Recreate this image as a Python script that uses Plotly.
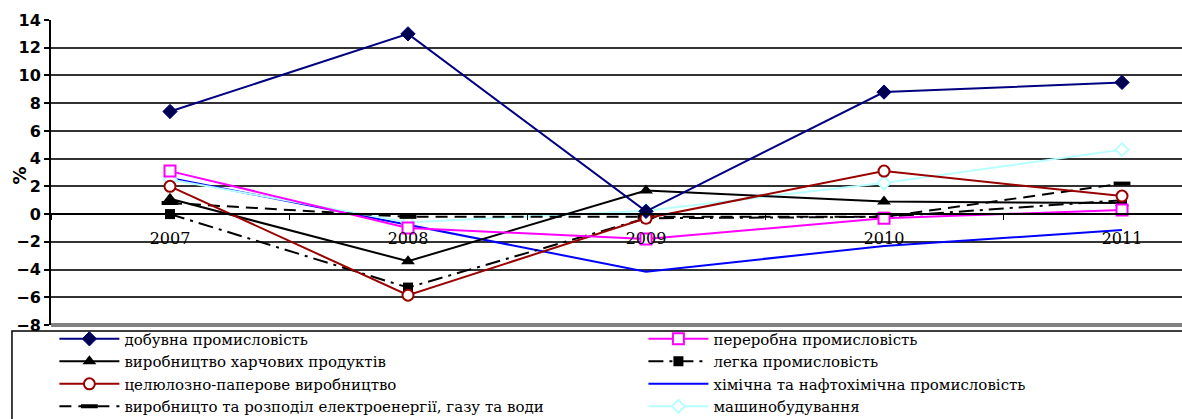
import plotly.graph_objects as go

years = ["2007", "2008", "2009", "2010", "2011"]

dobuvna = [7.4, 13.0, 0.2, 8.8, 9.5]
pererobna = [3.1, -1.0, -1.8, -0.3, 0.3]
kharchovi = [1.1, -3.4, 1.7, 0.9, 0.8]
lehka = [0.0, -5.3, -0.3, -0.2, 1.0]
tseliulozno = [2.0, -5.85, -0.3, 3.1, 1.3]
khimichna = [2.6, -0.8, -4.15, -2.3, -1.15]
elektro = [0.8, -0.2, -0.2, -0.2, 2.2]
mashyno = [2.5, -0.6, 0.25, 2.25, 4.65]

y_ticks = [14, 12, 10, 8, 6, 4, 2, 0, -2, -4, -6, -8]

names = [
    "добувна промисловість",
    "переробна промисловість",
    "виробництво харчових продуктів",
    "легка промисловість",
    "целюлозно-паперове виробництво",
    "хімічна та нафтохімічна промисловість",
    "виробницто та розподіл електроенергії, газу та води",
    "машинобудування",
]

fig = go.Figure()

fig.add_trace(go.Scatter(x=years, y=khimichna, name=names[5], mode="lines",
                         legend="legend2", legendrank=3,
                         line=dict(color="#0000FF", width=2)))
fig.add_trace(go.Scatter(x=years, y=mashyno, name=names[7], mode="lines+markers",
                         legend="legend2", legendrank=4,
                         line=dict(color="#B8FFFF", width=2),
                         marker=dict(symbol="diamond", size=10, color="white",
                                     line=dict(color="#B8FFFF", width=2))))
fig.add_trace(go.Scatter(x=years, y=elektro, name=names[6], mode="lines+markers",
                         legend="legend", legendrank=4,
                         line=dict(color="black", width=2, dash="12px,7px"),
                         marker=dict(symbol="line-ew", size=12,
                                     line=dict(color="black", width=4))))
fig.add_trace(go.Scatter(x=years, y=lehka, name=names[3], mode="lines+markers",
                         legend="legend2", legendrank=2,
                         line=dict(color="black", width=2, dash="longdashdot"),
                         marker=dict(symbol="square", size=10, color="black")))
fig.add_trace(go.Scatter(x=years, y=kharchovi, name=names[2], mode="lines+markers",
                         legend="legend", legendrank=2,
                         line=dict(color="black", width=2),
                         marker=dict(symbol="triangle-up", size=12, color="black")))
fig.add_trace(go.Scatter(x=years, y=tseliulozno, name=names[4], mode="lines+markers",
                         legend="legend", legendrank=3,
                         line=dict(color="#990000", width=2),
                         marker=dict(symbol="circle", size=11, color="white",
                                     line=dict(color="#990000", width=2))))
fig.add_trace(go.Scatter(x=years, y=pererobna, name=names[1], mode="lines+markers",
                         legend="legend2", legendrank=1,
                         line=dict(color="#FF00FF", width=2),
                         marker=dict(symbol="square", size=11, color="white",
                                     line=dict(color="#FF00FF", width=2))))
fig.add_trace(go.Scatter(x=years, y=dobuvna, name=names[0], mode="lines+markers",
                         legend="legend", legendrank=1,
                         line=dict(color="#000080", width=2),
                         marker=dict(symbol="diamond", size=11, color="#000050",
                                     line=dict(color="#000080", width=1))))

legend_font = dict(family="DejaVu Serif, serif", size=15, color="black")
legend_common = dict(
    orientation="v", y=0.008, xanchor="left", yanchor="top",
    font=legend_font, bgcolor="rgba(0,0,0,0)", tracegroupgap=0, itemwidth=60,
    traceorder="normal",
)

fig.update_layout(
    width=1182, height=419,
    margin=dict(l=51, r=0, t=20, b=94, autoexpand=False),
    paper_bgcolor="white", plot_bgcolor="white",
    showlegend=True,
    legend=dict(x=0.003, **legend_common),
    legend2=dict(x=0.5238, **legend_common),
    font=dict(family="Liberation Sans", color="black"),
)

fig.update_xaxes(
    type="category", range=[-0.5, 4.252],
    anchor="free", position=8 / 22,
    showline=True, linecolor="black", linewidth=1.5,
    ticks="outside", tickson="boundaries", ticklen=5, tickcolor="black",
    tickfont=dict(family="DejaVu Serif", size=16, color="black"),
    ticklabelstandoff=10,
    showgrid=False, zeroline=False,
)

fig.update_yaxes(
    range=[-8, 14], tickvals=y_ticks,
    showline=True, linecolor="black", linewidth=2,
    ticks="outside", ticklen=5, tickcolor="black", tickwidth=2,
    tickfont=dict(family="DejaVu Sans", size=16, color="black", weight="bold"),
    showgrid=True, gridcolor="#333333", gridwidth=1.6,
    zeroline=True, zerolinecolor="black", zerolinewidth=1.6,
)

fig.add_annotation(text="%", xref="paper", yref="paper", x=-0.0274, y=0.49,
                   xanchor="center", yanchor="middle",
                   textangle=-90, showarrow=False,
                   font=dict(family="DejaVu Sans", size=18, color="black", weight="bold"))

# bottom border of the plot area and legend frame
fig.add_shape(type="line", xref="paper", yref="y domain", x0=0, x1=1, y0=0, y1=0,
              line=dict(color="#808080", width=4))
fig.add_shape(type="rect", xref="paper", yref="paper", x0=-0.0345, x1=1.02,
              y0=-0.45, y1=-0.0197, line=dict(color="black", width=1.5),
              fillcolor="rgba(0,0,0,0)")

fig.write_html("out.html")
